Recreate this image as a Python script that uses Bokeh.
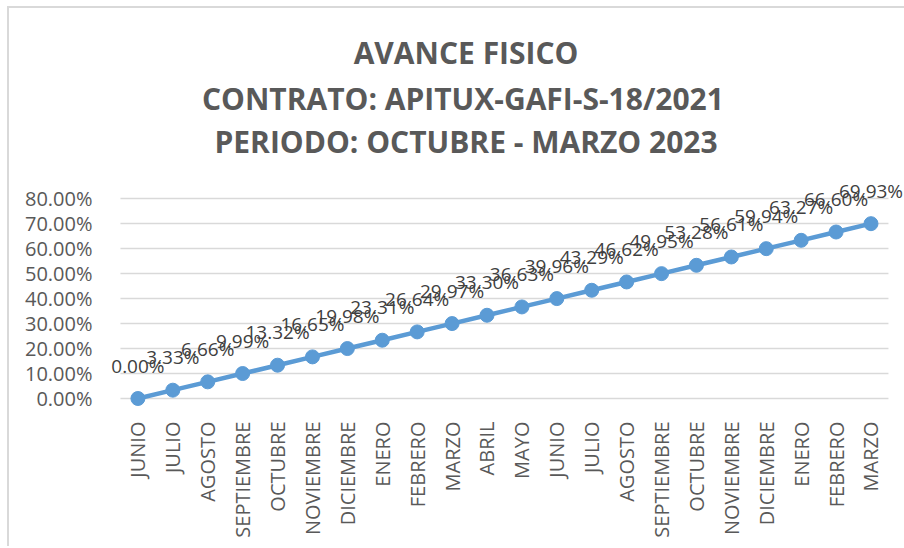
from bokeh.plotting import figure
from bokeh.models import ColumnDataSource, FixedTicker, LabelSet, Label, Range1d
from bokeh.core.properties import value
from bokeh.embed import file_html
from bokeh.resources import INLINE

months = ["JUNIO", "JULIO", "AGOSTO", "SEPTIEMBRE", "OCTUBRE", "NOVIEMBRE", "DICIEMBRE",
          "ENERO", "FEBRERO", "MARZO", "ABRIL", "MAYO", "JUNIO", "JULIO", "AGOSTO",
          "SEPTIEMBRE", "OCTUBRE", "NOVIEMBRE", "DICIEMBRE", "ENERO", "FEBRERO", "MARZO"]
avance = [0.00, 3.33, 6.66, 9.99, 13.32, 16.65, 19.98, 23.31, 26.64, 29.97, 33.30,
          36.63, 39.96, 43.29, 46.62, 49.95, 53.28, 56.61, 59.94, 63.27, 66.60, 69.93]
y_ticks = [0, 10, 20, 30, 40, 50, 60, 70, 80]
title_lines = ["AVANCE FISICO", "CONTRATO: APITUX-GAFI-S-18/2021", "PERIODO: OCTUBRE - MARZO 2023"]

# layout of the three title lines (centre of each line, in plot units)
title_x = [9.40, 9.31, 9.40]
title_y = [138.4, 120.2, 103.0]

n = len(months)
xs = list(range(n))
src = ColumnDataSource(dict(x=xs, y=avance, lbl=[f"{v:.2f}%" for v in avance]))
grid = ColumnDataSource(dict(x0=[-0.5] * len(y_ticks), x1=[n - 0.5] * len(y_ticks), y=y_ticks))

FONT = "Open Sans"
GREY = "#595959"

p = figure(frame_width=798, frame_height=400, output_backend="svg", toolbar_location=None,
           x_range=Range1d(-0.9, n - 0.04), y_range=Range1d(-4, 156),
           min_border_left=97, min_border_right=0, min_border_bottom=138, min_border_top=0,
           title=None,
           styles={"border-left": "2px solid #d9d9d9", "border-top": "2px solid #d9d9d9",
                   "margin-left": "7px", "margin-top": "6px"})
p.outline_line_color = None
p.background_fill_color = "white"
p.border_fill_color = "white"

for t, tx, ty in zip(title_lines, title_x, title_y):
    p.add_layout(Label(x=tx, y=ty, text=t, text_align="center", text_baseline="middle",
                       text_font=FONT, text_font_size="30px", text_font_style="bold",
                       text_color=GREY))

p.segment("x0", "y", "x1", "y", source=grid, line_color="#d9d9d9", line_width=1.5)
p.line("x", "y", source=src, line_color="#5b9bd5", line_width=4.5)
p.scatter("x", "y", source=src, size=14, fill_color="#5b9bd5", line_color="#5b9bd5")

labels = LabelSet(x="x", y="y", text="lbl", source=src, text_align="center",
                  text_baseline="middle", y_offset=33, text_font=value(FONT),
                  text_font_size=value("19px"), text_color=value("#404040"))
p.add_layout(labels)

# axes
p.yaxis.ticker = FixedTicker(ticks=y_ticks)
p.yaxis.major_label_overrides = {t: f"{t:.2f}%" for t in y_ticks}
p.yaxis.axis_line_color = None
p.yaxis.major_tick_line_color = None
p.yaxis.minor_tick_line_color = None
p.yaxis.major_label_standoff = 8
p.yaxis.major_label_text_font = FONT
p.yaxis.major_label_text_font_size = "20px"
p.yaxis.major_label_text_color = GREY

p.xaxis.ticker = FixedTicker(ticks=xs)
p.xaxis.major_label_overrides = {i: m for i, m in enumerate(months)}
p.xaxis.major_label_orientation = 3.14159265 / 2
p.xaxis.axis_line_color = None
p.xaxis.major_tick_line_color = None
p.xaxis.minor_tick_line_color = None
p.xaxis.major_label_standoff = 7
p.xaxis.major_label_text_font = FONT
p.xaxis.major_label_text_font_size = "20px"
p.xaxis.major_label_text_color = GREY

p.xgrid.grid_line_color = None
p.ygrid.grid_line_color = None

open("out.html", "w").write(file_html(p, INLINE))
